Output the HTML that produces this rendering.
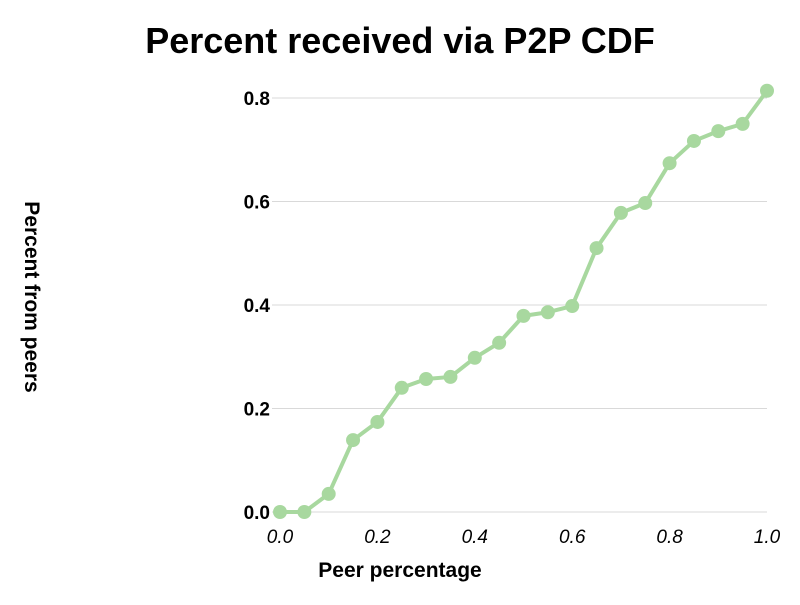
<!DOCTYPE html>
<html><head><meta charset="utf-8"><style>
html,body{margin:0;padding:0;background:#fff;}
svg text{font-family:"Liberation Sans",sans-serif;}
</style></head><body>
<svg id="chart" width="800" height="600" xmlns="http://www.w3.org/2000/svg">
<rect width="800" height="600" fill="#fff"/>
<text x="400" y="53" text-anchor="middle" font-size="36" font-weight="bold" fill="#000">Percent received via P2P CDF</text>
<text x="400" y="577" text-anchor="middle" font-size="21" font-weight="bold" fill="#000">Peer percentage</text>
<text transform="translate(25,297) rotate(90)" text-anchor="middle" font-size="21" font-weight="bold" fill="#000">Percent from peers</text>
<g id="grid"></g><g id="xt"></g><g id="yt"></g><g id="series"></g>
</svg>
<script>
const xValues=[0,0.05,0.1,0.15,0.2,0.25,0.3,0.35,0.4,0.45,0.5,0.55,0.6,0.65,0.7,0.75,0.8,0.85,0.9,0.95,1.0];
const yValues=[0,0,0.035,0.139,0.174,0.24,0.257,0.261,0.298,0.327,0.379,0.386,0.398,0.51,0.578,0.597,0.674,0.717,0.736,0.75,0.814];
const xTicks=[0,0.2,0.4,0.6,0.8,1.0];
const xTickLabels=["0.0","0.2","0.4","0.6","0.8","1.0"];
const yTicks=[0,0.2,0.4,0.6,0.8];
const yTickLabels=["0.0","0.2","0.4","0.6","0.8"];
const NS="http://www.w3.org/2000/svg";
const X0=280,X1=767,Y0=512,Y1=98;
const xs=v=>X0+(X1-X0)*v;
const ys=v=>Y0-(Y0-Y1)*v/0.8;
function mk(t,a,p){const e=document.createElementNS(NS,t);for(const k in a)e.setAttribute(k,a[k]);p.appendChild(e);return e;}
const grid=document.getElementById('grid'),xt=document.getElementById('xt'),yt=document.getElementById('yt'),ser=document.getElementById('series');
yTicks.forEach((v,i)=>{
 const l=mk('line',{x1:272,x2:767,y1:ys(v),y2:ys(v),stroke:'#d9d9d9','stroke-width':1},grid);
 
 
 const t=mk('text',{x:270,y:ys(v)+7,'text-anchor':'end','font-size':19,'font-weight':'bold',fill:'#000'},yt);
 t.textContent=yTickLabels[i];
 
 
});
xTicks.forEach((v,i)=>{
 const t=mk('text',{x:xs(v),y:543,'text-anchor':'middle','font-size':19,'font-style':'italic',fill:'#000'},xt);
 t.textContent=xTickLabels[i];
 
 
});
const pl=mk('polyline',{points:xValues.map((x,i)=>xs(x)+','+ys(yValues[i])).join(' '),fill:'none',stroke:'#a8d89f','stroke-width':4,'stroke-linejoin':'round'},ser);


xValues.forEach((x,i)=>{
 const c=mk('circle',{cx:xs(x),cy:ys(yValues[i]),r:7,fill:'#a8d89f'},ser);
 
 
});
</script>
</body></html>
